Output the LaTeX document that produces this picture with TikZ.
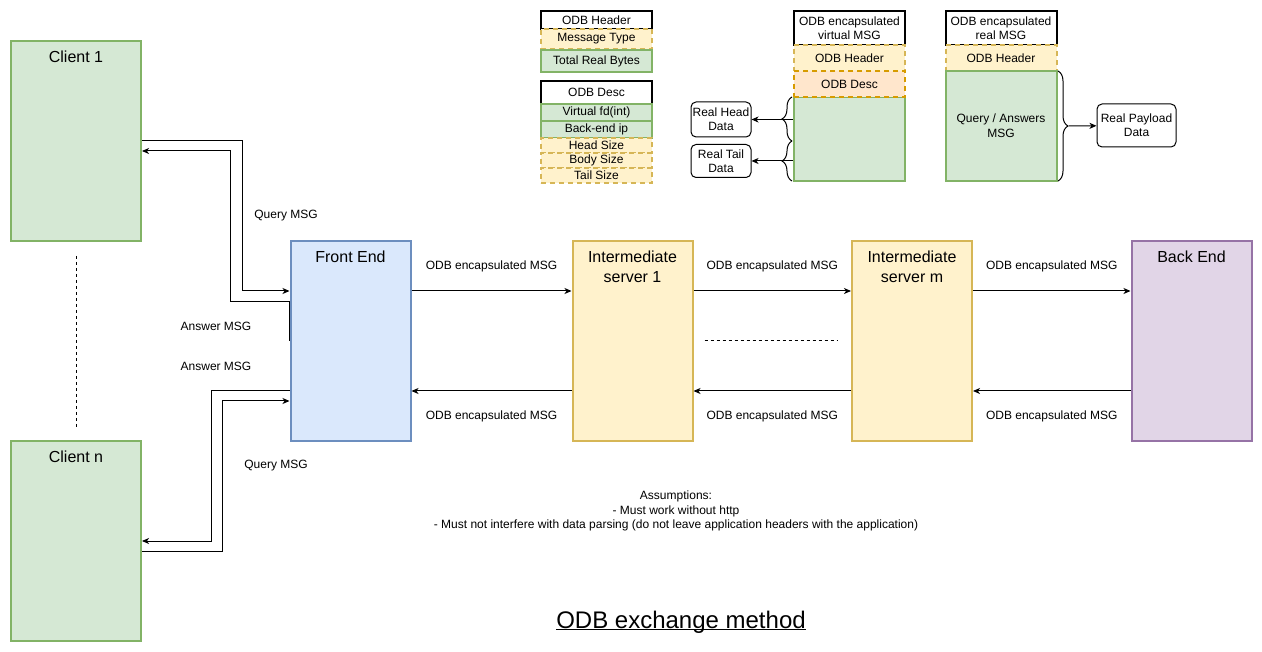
\documentclass[tikz,border=0pt]{standalone}
\usepackage{fontspec}
\setmainfont{Liberation Sans}
\usepackage{tikz}
\usetikzlibrary{arrows.meta,decorations.pathreplacing}

\definecolor{grnF}{HTML}{D5E8D4}
\definecolor{grnD}{HTML}{82B366}
\definecolor{bluF}{HTML}{DAE8FC}
\definecolor{bluD}{HTML}{6C8EBF}
\definecolor{ylwF}{HTML}{FFF2CC}
\definecolor{ylwD}{HTML}{D6B656}
\definecolor{prpF}{HTML}{E1D5E7}
\definecolor{prpD}{HTML}{9673A6}
\definecolor{orgF}{HTML}{FFE6CC}
\definecolor{orgD}{HTML}{D79B00}

\begin{document}
\begin{tikzpicture}[x=1pt, y=-1pt, >={Stealth[length=7pt,width=6pt,inset=2pt]}, line width=1pt,
  every node/.style={font=\fontsize{12}{14}\selectfont, inner sep=0pt},
  block/.style={draw, line width=2pt, minimum width=120pt, minimum height=200pt},
  blocktitle/.style={anchor=north, yshift=-10pt, align=center, font=\fontsize{16}{20}\selectfont},
  field/.style={draw, line width=2pt, minimum width=111pt, align=center},
  dfield/.style={field, dash pattern=on 5pt off 4pt},
  note/.style={draw, line width=1pt, rounded corners=5pt, align=center},
  brc/.style={decorate, decoration={brace, amplitude=10pt}, line width=1pt}]
\useasboundingbox (0,0) rectangle (1262,652);

% clients and servers
\node[block, fill=grnF, draw=grnD, minimum width=130pt, label={[blocktitle]north:Client 1}] at (76,141) (c1) {};
\node[block, fill=grnF, draw=grnD, minimum width=130pt, label={[blocktitle]north:Client n}] at (76,541) (cn) {};
\node[block, fill=bluF, draw=bluD, label={[blocktitle]north:Front End}] at (350.5,341) (fe) {};
\node[block, fill=ylwF, draw=ylwD, label={[blocktitle]north:Intermediate\\server 1}] at (632.5,341) (is1) {};
\node[block, fill=ylwF, draw=ylwD, label={[blocktitle]north:Intermediate\\server m}] at (912,341) (ism) {};
\node[block, fill=prpF, draw=prpD, label={[blocktitle]north:Back End}] at (1191.5,341) (be) {};

\draw[dash pattern=on 3pt off 3pt] ([yshift=-14pt]c1.south) -- ([yshift=11pt]cn.north);
\draw[dash pattern=on 3pt off 3pt] ([xshift=11pt]is1.east) -- ([xshift=-14pt]ism.west);

% client side
\draw[->] (c1.east) -- ++(100,0) |- ([yshift=50pt]fe.west);
\draw[->] (fe.west) -- ++(0,-39) -- ++(-59,0) |- ([yshift=-10pt]c1.east);
\draw[->] ([yshift=-50pt]fe.west) -- ++(-78,0) |- (cn.east);
\draw[->] ([yshift=-10pt]cn.east) -- ++(80,0) |- ([yshift=-60pt]fe.west);

\node at (286,216) (q1) {Query MSG};
\node at (216,326) (a1) {Answer MSG};
\node at (216,366) (an) {Answer MSG};
\node at (276,466) (qn) {Query MSG};

% server chain
\draw[->] ([yshift=50pt]fe.east) -- node[yshift=25pt]{ODB encapsulated MSG} ([yshift=50pt]is1.west);
\draw[->] ([yshift=50pt]is1.east) -- node[yshift=25pt]{ODB encapsulated MSG} ([yshift=50pt]ism.west);
\draw[->] ([yshift=50pt]ism.east) -- node[yshift=25pt]{ODB encapsulated MSG} ([yshift=50pt]be.west);
\draw[->] ([yshift=-50pt]is1.west) -- node[yshift=-25pt]{ODB encapsulated MSG} ([yshift=-50pt]fe.east);
\draw[->] ([yshift=-50pt]ism.west) -- node[yshift=-25pt]{ODB encapsulated MSG} ([yshift=-50pt]is1.east);
\draw[->] ([yshift=-50pt]be.west) -- node[yshift=-25pt]{ODB encapsulated MSG} ([yshift=-50pt]ism.east);

% header / desc layout
\node[field, fill=white, draw=black, minimum height=18pt] at (596.5,20) (hdr) {ODB Header};
\node[dfield, fill=ylwF, draw=ylwD, minimum height=20pt] at (596.5,39) (mtype) {Message Type};
\node[field, fill=grnF, draw=grnD, minimum height=22pt] at (596.5,61) (tbytes) {Total Real Bytes};

\node[field, fill=white, draw=black, minimum height=23pt] at (596.5,92.5) (desc) {ODB Desc};
\node[field, fill=grnF, draw=grnD, minimum height=17pt] at (596.5,112.5) (vfd) {Virtual fd(int)};
\node[field, fill=grnF, draw=grnD, minimum height=17pt] at (596.5,129.5) (beip) {Back-end ip};
\node[dfield, fill=ylwF, draw=ylwD, minimum height=15pt] at (596.5,145.5) (hsize) {Head Size};
\node[dfield, fill=ylwF, draw=ylwD, minimum height=15pt] at (596.5,160.5) (bsize) {Body Size};
\node[dfield, fill=ylwF, draw=ylwD, minimum height=15pt] at (596.5,175.5) (tsize) {Tail Size};

% virtual msg
\node[field, fill=white, draw=black, minimum height=34pt] at (849.5,28) (vtitle) {ODB encapsulated\\virtual MSG};
\node[dfield, fill=ylwF, draw=ylwD, minimum height=26pt] at (849.5,58) (vhdr) {ODB Header};
\node[field, fill=grnF, draw=grnD, minimum height=84pt] at (849.5,139) (vbody) {};
\node[dfield, fill=orgF, draw=orgD, minimum height=26pt] at (849.5,84) (vdesc) {ODB Desc};

\draw[brc] (792,141) -- (792,97);
\draw[brc] (792,181) -- (792,141);

\node[note, minimum width=60pt, minimum height=35pt] at (721,119.5) (rhead) {Real Head\\Data};
\node[note, minimum width=60pt, minimum height=33pt] at (721,161) (rtail) {Real Tail\\Data};
\draw[->] (vbody.west |- rhead) -- (rhead);
\draw[->] (vbody.west |- rtail) -- (rtail);

% real msg
\node[field, fill=white, draw=black, minimum height=34pt] at (1001,28) (rtitle) {ODB encapsulated\\real MSG};
\node[dfield, fill=ylwF, draw=ylwD, minimum height=26pt] at (1001,58) (rhdr) {ODB Header};
\node[field, fill=grnF, draw=grnD, minimum height=110pt, font=\fontsize{12}{15}\selectfont] at (1001,126) (rbody) {Query / Answers\\MSG};

\draw[brc] (1058,71) -- (1058,181);
\coordinate (ptip) at (1069,126);
\node[note, minimum width=79pt, minimum height=43pt] at (1136.5,125.5) (rpay) {Real Payload\\Data};
\draw[->] (ptip) -- (rpay);

% notes
\node[align=center, font=\fontsize{12}{14.5}\selectfont] at (676,511) (asm) {Assumptions:\\- Must work without http\\- Must not interfere with data parsing (do not leave application headers with the application)};
\node[font=\fontsize{24}{28}\selectfont] at (681,621) (ttl) {\underline{\vphantom{A}\smash{ODB exchange method}}};

\end{tikzpicture}
\end{document}
